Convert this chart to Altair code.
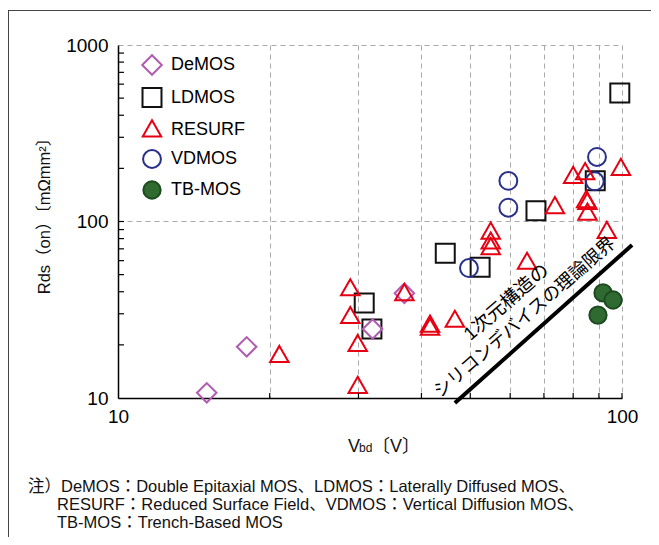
import altair as alt
import pandas as pd

# ---------------- data ----------------
series = ["DeMOS", "LDMOS", "RESURF", "VDMOS", "TB-MOS"]

demos_v = [15.0, 18.0, 32.0, 37.0]
demos_r = [10.7, 19.5, 24.6, 39.2]

ldmos_v = [30.8, 31.9, 44.6, 52.3, 67.5, 88.5, 99.0]
ldmos_r = [34.5, 24.6, 66.0, 55.0, 115.0, 170.0, 535.0]

resurf_v = [20.9, 28.9, 28.9, 29.9, 29.9, 37.0, 41.6, 41.6, 46.6, 54.9, 54.9, 54.9,
            64.8, 73.6, 80.0, 84.5, 84.9, 85.4, 85.4, 93.3, 99.5]
resurf_r = [17.5, 41.8, 29.1, 20.2, 11.7, 39.2, 26.0, 25.0, 27.7, 87.5, 76.9, 71.5,
            59.0, 122.0, 181.0, 190.0, 132.0, 129.0, 112.0, 88.3, 201.0]

vdmos_v = [49.7, 59.5, 59.5, 89.2, 88.3]
vdmos_r = [54.5, 170.0, 119.7, 232.0, 169.0]

tbmos_v = [91.7, 96.0, 89.6]
tbmos_r = [39.4, 35.9, 29.5]

limit_v = [46.6, 104.7]
limit_r = [9.37, 73.6]

x_tick_vals = [10, 20, 30, 40, 50, 60, 70, 80, 90, 100]
y_tick_vals = [10, 100, 1000]
x_minor = [20, 30, 40, 50, 60, 70, 80, 90, 100]
y_minor = [20, 30, 40, 50, 60, 70, 80, 90, 100, 200, 300, 400, 500, 600, 700, 800, 900]

notes = [
    "注）DeMOS：Double Epitaxial MOS、LDMOS：Laterally Diffused MOS、",
    "RESURF：Reduced Surface Field、VDMOS：Vertical Diffusion MOS、",
    "TB-MOS：Trench-Based MOS",
]

# ---------------- tables ----------------
rows = []
for name, vs, rs in [("LDMOS", ldmos_v, ldmos_r), ("DeMOS", demos_v, demos_r),
                     ("VDMOS", vdmos_v, vdmos_r), ("RESURF", resurf_v, resurf_r),
                     ("TB-MOS", tbmos_v, tbmos_r)]:
    for v, r in zip(vs, rs):
        rows.append({"series": name, "V": v, "R": r})
df = pd.DataFrame(rows)

W, H = 504, 353
FONT = "Liberation Sans, Arial, 'Noto Sans CJK JP', sans-serif"

xscale = alt.Scale(type="log", domain=[10, 100])
yscale = alt.Scale(type="log", domain=[10, 1000])

tri = "M0,-1L1,0.75L-1,0.75Z"
shapes = ["diamond", "square", tri, "circle", "circle"]
strokes = ["#b05cb0", "#111111", "#e60012", "#28308c", "#1d4a20"]
fills = ["transparent", "transparent", "transparent", "transparent", "#2f6b31"]
sizes = [380, 300, 370, 270, 410]

leg = alt.Legend(title=None, orient="none", legendX=23, legendY=9, padding=0,
                 labelFontSize=18, labelFont=FONT, labelColor="black",
                 rowPadding=5, labelOffset=8, symbolStrokeWidth=2)

label_expr = ("datum.value==10?'10':datum.value==100?'100':"
              "datum.value==1000?'1000':''")

points = alt.Chart(df).mark_point(strokeWidth=2, opacity=1).encode(
    x=alt.X("V:Q", scale=xscale, title=None,
            axis=alt.Axis(values=x_tick_vals, labelExpr=label_expr, grid=True,
                          gridDash=[5, 4], gridColor="#aaaaaa", gridWidth=1,
                          tickSize=0, domainColor="black", domainWidth=1.5,
                          labelFontSize=19, labelFont=FONT, labelColor="black",
                          labelPadding=9, labelFlush=False, labelOverlap=False)),
    y=alt.Y("R:Q", scale=yscale, title=None,
            axis=alt.Axis(values=y_tick_vals, labelExpr=label_expr, grid=True,
                          gridDash=[5, 4], gridColor="#aaaaaa", gridWidth=1,
                          tickSize=0, domainColor="black", domainWidth=1.5,
                          labelFontSize=19, labelFont=FONT, labelColor="black",
                          labelPadding=10, labelFlush=False, labelOverlap=False)),
    shape=alt.Shape("series:N", scale=alt.Scale(domain=series, range=shapes), legend=leg),
    stroke=alt.Stroke("series:N", scale=alt.Scale(domain=series, range=strokes), legend=leg),
    fill=alt.Fill("series:N", scale=alt.Scale(domain=series, range=fills), legend=leg),
    size=alt.Size("series:N", scale=alt.Scale(domain=series, range=sizes), legend=leg),
)

xt = alt.Chart(pd.DataFrame({"v": x_minor})).mark_rule(color="black", strokeWidth=1.2).encode(
    x=alt.X("v:Q", scale=xscale), y=alt.value(H), y2=alt.value(H - 5))
yt = alt.Chart(pd.DataFrame({"v": y_minor})).mark_rule(color="black", strokeWidth=1.2).encode(
    y=alt.Y("v:Q", scale=yscale), x=alt.value(0), x2=alt.value(6))

line = alt.Chart(pd.DataFrame({"V": limit_v, "R": limit_r})).mark_line(
    color="black", strokeWidth=4, clip=False).encode(
    x=alt.X("V:Q", scale=xscale), y=alt.Y("R:Q", scale=yscale))

ann1 = alt.Chart(pd.DataFrame({"V": [59.0], "R": [34.9], "t": ["1次元構造の"]})).mark_text(
    angle=319, fontSize=19, font=FONT, color="black", align="center", baseline="middle").encode(
    x=alt.X("V:Q", scale=xscale), y=alt.Y("R:Q", scale=yscale), text="t:N")
ann2 = alt.Chart(pd.DataFrame({"V": [64.2], "R": [28.4], "t": ["シリコンデバイスの理論限界"]})).mark_text(
    angle=319, fontSize=18, font=FONT, color="black", align="center", baseline="middle").encode(
    x=alt.X("V:Q", scale=xscale), y=alt.Y("R:Q", scale=yscale), text="t:N")

def ptext(t, x, y, size, angle=None, align="left", baseline="alphabetic"):
    kw = dict(fontSize=size, font=FONT, color="#111111", align=align, baseline=baseline)
    if angle is not None:
        kw["angle"] = angle
    return alt.Chart(pd.DataFrame({"t": [t]})).mark_text(**kw).encode(
        x=alt.value(x), y=alt.value(y), text="t:N")

ytitle = ptext("Rds（on）〔mΩmm²〕", -73, 167, 16.5, angle=270, align="center", baseline="middle")
xt1 = ptext("V", 230, 407, 18)
xt2 = ptext("bd", 241, 407, 12)
xt3 = ptext("〔V〕", 254, 407, 18)
n1 = ptext(notes[0], -90, 447, 16.5)
n2 = ptext(notes[1], -61, 465, 16.5)
n3 = ptext(notes[2], -61, 483, 16.5)

frame_top = alt.Chart(pd.DataFrame({"a": [0]})).mark_rule(color="#444444", strokeWidth=1).encode(
    x=alt.value(-110), x2=alt.value(545), y=alt.value(-34.5))
frame_left = alt.Chart(pd.DataFrame({"a": [0]})).mark_rule(color="#444444", strokeWidth=1).encode(
    x=alt.value(-109.5), y=alt.value(-35), y2=alt.value(505))

chart = alt.layer(
    points, xt, yt, line, ann1, ann2, ytitle, xt1, xt2, xt3, n1, n2, n3, frame_top, frame_left
).properties(
    width=W, height=H,
    padding={"left": 110, "top": 37, "right": 29, "bottom": 139},
    autosize=alt.AutoSizeParams(type="none"),
).configure_view(stroke=None)

chart.save("out.html", embed_options={"renderer": "svg", "actions": False})
